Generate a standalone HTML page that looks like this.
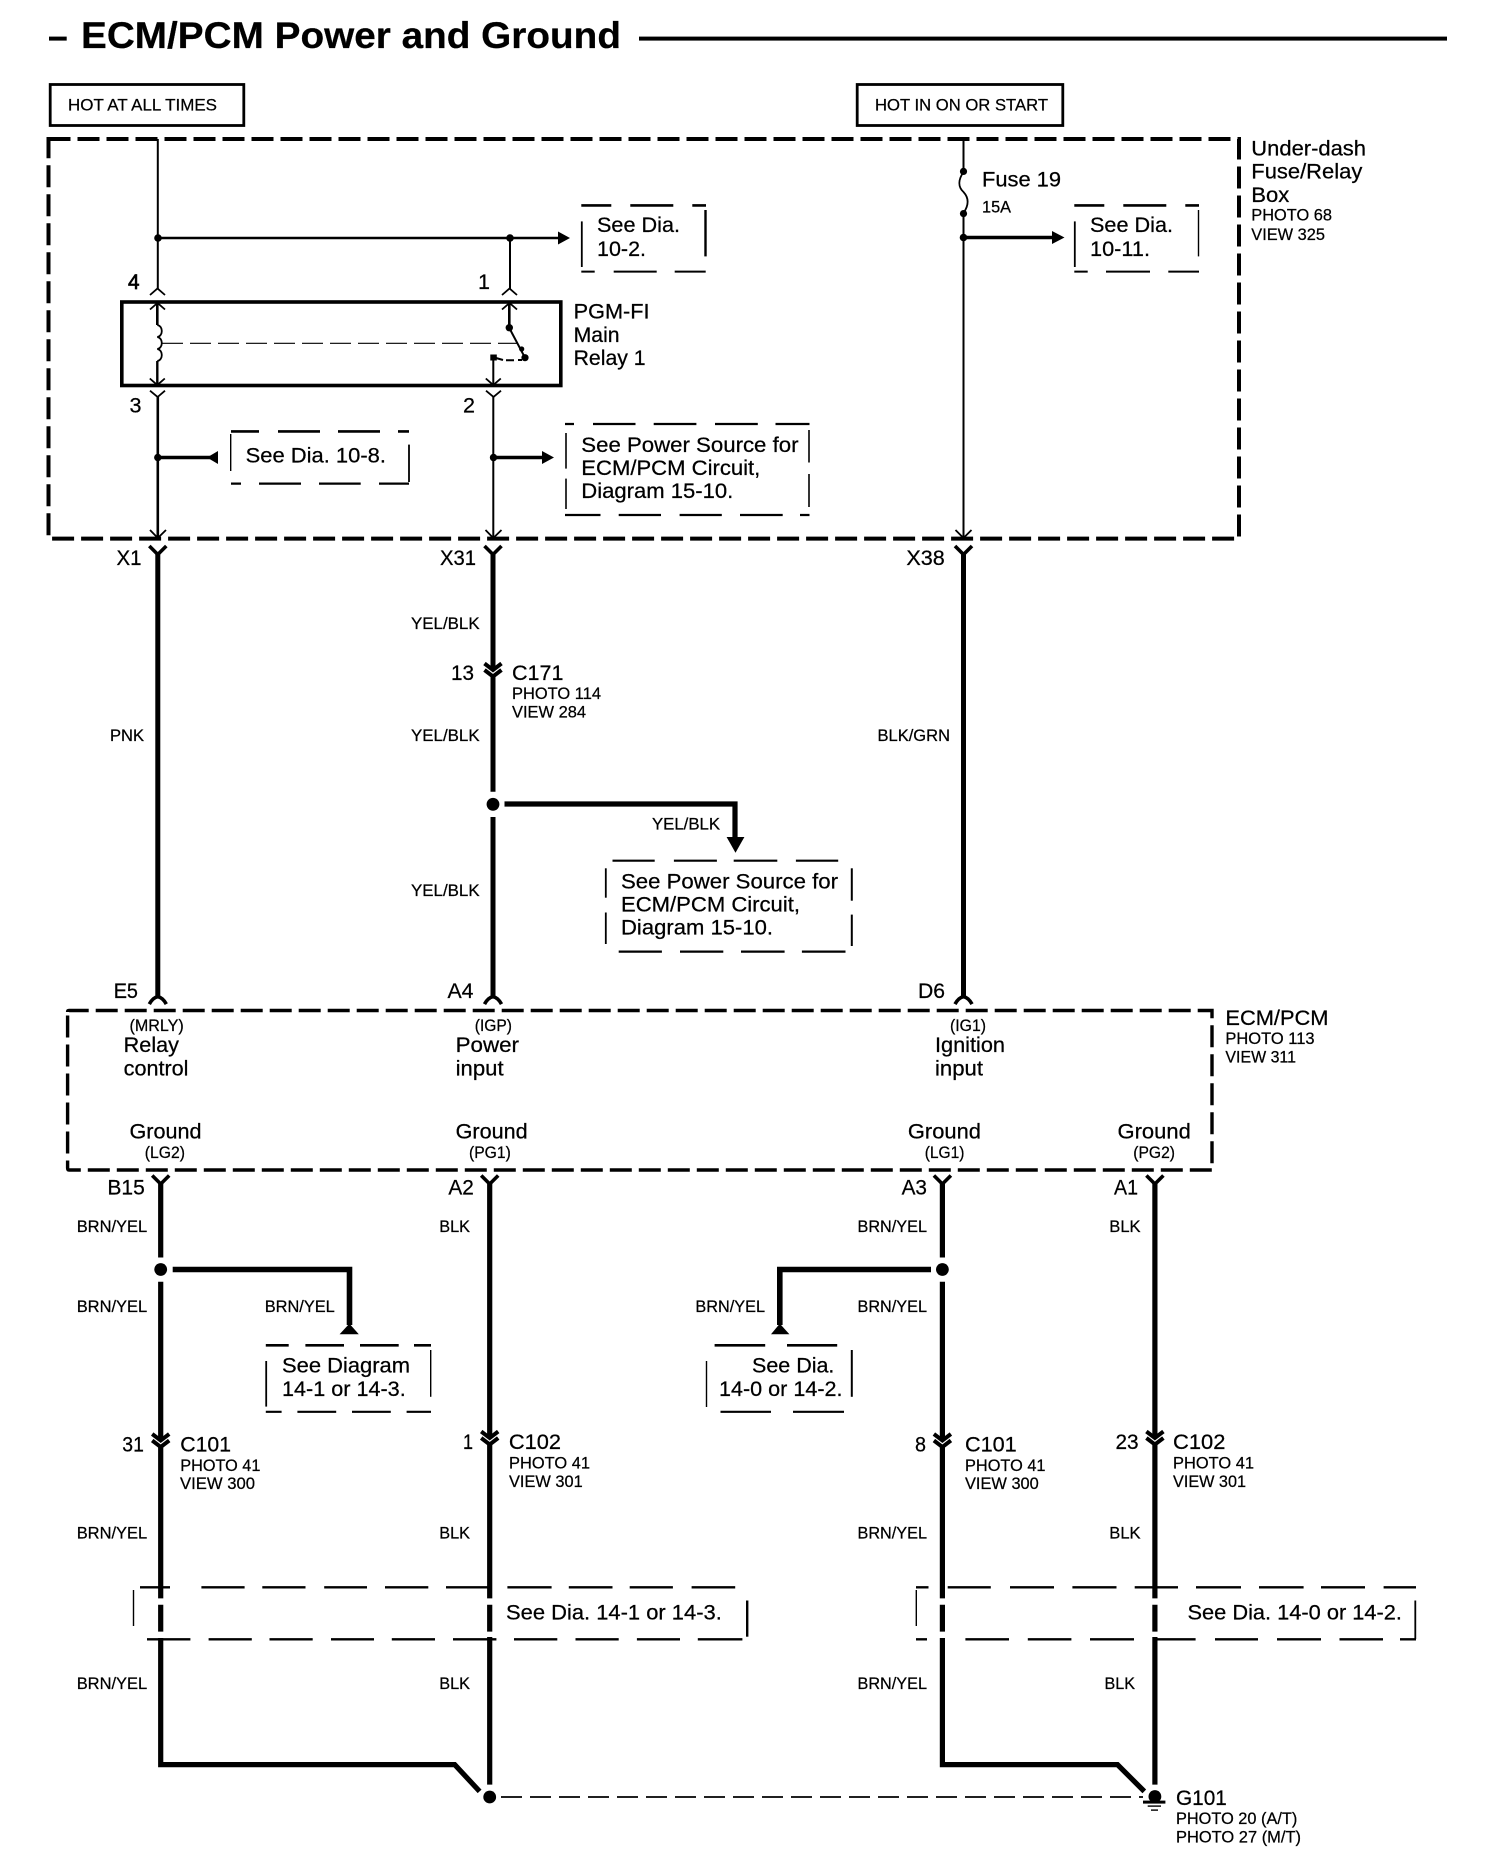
<!DOCTYPE html>
<html><head><meta charset="utf-8"><style>
html,body{margin:0;padding:0;background:#fff}
svg{display:block}
text{font-family:"Liberation Sans",sans-serif;fill:#000;stroke:#000;stroke-width:.25px}
.t{font-size:21.5px}.s{font-size:17px}
.n{stroke:#000;fill:none}
</style></head><body>
<svg width="1504" height="1868" viewBox="0 0 1504 1868" xmlns="http://www.w3.org/2000/svg">
<defs>
<path id="y" d="M-8.5,0L0,8.5L8.5,0" fill="none" stroke="#000" stroke-width="3.6"/>
<path id="ya" d="M-8.5,7.5Q-5,1 0,0Q5,1 8.5,7.5" fill="none" stroke="#000" stroke-width="3.6"/>
<g id="cc" fill="none" stroke="#000" stroke-width="4"><path d="M-8.5,0L0,6.5L8.5,0"/><path d="M-8.5,6.5L0,13L8.5,6.5"/></g>
<path id="ip" d="M-7.5,6.5L0,0L7.5,6.5" fill="none" stroke="#000" stroke-width="1.8"/>
<path id="iv" d="M-7.5,-6.5L0,0L7.5,-6.5" fill="none" stroke="#000" stroke-width="1.8"/>
</defs>

<!-- title -->
<text x="81" y="48" font-size="37" font-weight="700" textLength="540" lengthAdjust="spacingAndGlyphs">ECM/PCM Power and Ground</text>
<rect x="49" y="36.6" width="17.7" height="4"/>
<rect x="639" y="36.6" width="808" height="4"/>

<!-- hot boxes -->
<rect x="50.2" y="84.5" width="193.6" height="41" class="n" stroke-width="2.8"/>
<text class="s" x="68" y="110.7" textLength="149" lengthAdjust="spacingAndGlyphs">HOT AT ALL TIMES</text>
<rect x="857.2" y="84.5" width="205.6" height="41" class="n" stroke-width="2.8"/>
<text class="s" x="875" y="110.7" textLength="173" lengthAdjust="spacingAndGlyphs">HOT IN ON OR START</text>

<!-- Under-dash box -->
<path d="M48.5,139H1239V538.6H48.5Z" class="n" stroke-width="4" stroke-dasharray="22 7"/>
<text class="t" x="1251.3" y="155.4" textLength="114.7" lengthAdjust="spacingAndGlyphs">Under-dash</text>
<text class="t" x="1251.3" y="178.6" textLength="111" lengthAdjust="spacingAndGlyphs">Fuse/Relay</text>
<text class="t" x="1251.3" y="201.8" textLength="38" lengthAdjust="spacingAndGlyphs">Box</text>
<text class="s" x="1251.3" y="220.7" textLength="80.7" lengthAdjust="spacingAndGlyphs">PHOTO 68</text>
<text class="s" x="1251.3" y="240" textLength="73.7" lengthAdjust="spacingAndGlyphs">VIEW 325</text>

<!-- top wires -->
<line x1="157.8" y1="139" x2="157.8" y2="289" class="n" stroke-width="2"/>
<line x1="158" y1="238" x2="561" y2="238" class="n" stroke-width="2.4"/>
<line x1="510" y1="238" x2="510" y2="289" class="n" stroke-width="2"/>
<circle cx="158" cy="238" r="3.8"/><circle cx="510" cy="238" r="3.8"/>
<path d="M558,231.5L570,238L558,244.5Z"/>
<use href="#ip" x="157.5" y="288.5"/><use href="#ip" x="509.5" y="288.5"/>

<text class="t" x="128" y="289" style="stroke-width:.7px" textLength="11.5" lengthAdjust="spacingAndGlyphs">4</text>
<text class="t" x="478" y="289" textLength="12" lengthAdjust="spacingAndGlyphs">1</text>
<text class="t" x="129.5" y="412.5" textLength="12" lengthAdjust="spacingAndGlyphs">3</text>
<text class="t" x="463" y="412.5" textLength="12" lengthAdjust="spacingAndGlyphs">2</text>

<!-- see 10-2 -->
<line x1="581.3" y1="205.4" x2="706" y2="205.4" class="n" stroke-width="2.6" stroke-dasharray="30 19 43 19 14"/>
<line x1="581.3" y1="271.6" x2="706" y2="271.6" class="n" stroke-width="2" stroke-dasharray="13.4 19 43 18 31"/>
<line x1="581.8" y1="221.4" x2="581.8" y2="267" class="n" stroke-width="1.8"/>
<line x1="705.5" y1="210" x2="705.5" y2="256.4" class="n" stroke-width="2.4"/>
<text class="t" x="597" y="232" textLength="83" lengthAdjust="spacingAndGlyphs">See Dia.</text>
<text class="t" x="597" y="256" textLength="49" lengthAdjust="spacingAndGlyphs">10-2.</text>

<!-- relay -->
<rect x="121.8" y="302" width="439" height="83.5" class="n" stroke-width="3.6"/>
<use href="#ip" x="157.5" y="303"/><use href="#ip" x="509.5" y="303"/>
<line x1="157.3" y1="303" x2="157.3" y2="325" class="n" stroke-width="2.6"/>
<path d="M157.3,325c6,1 6,11 0,12c6,1 6,11 0,12c6,1 6,11 0,12" class="n" stroke-width="1.8"/>
<line x1="157.3" y1="361" x2="157.3" y2="385" class="n" stroke-width="2.4"/>
<use href="#iv" x="157.3" y="385"/>
<line x1="162" y1="343.3" x2="518" y2="343.3" class="n" stroke-width="1.1" stroke-dasharray="21 7"/>
<line x1="509.3" y1="303" x2="509.3" y2="328" class="n" stroke-width="2.6"/>
<circle cx="509.3" cy="327.7" r="3.7"/>
<line x1="509.3" y1="328" x2="525" y2="357.7" class="n" stroke-width="2"/>
<circle cx="521.7" cy="349" r="2.6"/><circle cx="525" cy="357.7" r="3.6"/>
<rect x="490.3" y="354.5" width="6.5" height="6"/>
<path d="M496,358L503,360" class="n" stroke-width="2"/>
<path d="M506,360.2H514M518,360H522" class="n" stroke-width="2"/>
<line x1="493.3" y1="358" x2="493.3" y2="385" class="n" stroke-width="2"/>
<use href="#iv" x="493.3" y="385"/>
<path d="M150,390.7L157.6,397L165,390.7" class="n" stroke-width="1.8"/>
<path d="M486,390.7L493.5,397L501,390.7" class="n" stroke-width="1.8"/>
<text class="t" x="573.6" y="318.6" textLength="76" lengthAdjust="spacingAndGlyphs">PGM-FI</text>
<text class="t" x="573.6" y="342" textLength="46" lengthAdjust="spacingAndGlyphs">Main</text>
<text class="t" x="573.6" y="365" textLength="72" lengthAdjust="spacingAndGlyphs">Relay 1</text>

<!-- below relay -->
<line x1="157.8" y1="396" x2="157.8" y2="538" class="n" stroke-width="2.6"/>
<line x1="493.3" y1="396" x2="493.3" y2="538" class="n" stroke-width="2"/>
<path d="M150,530L157.8,538L166,530" class="n" stroke-width="1.8"/>
<path d="M485.5,530L493.3,538L501.5,530" class="n" stroke-width="1.8"/>
<circle cx="157.8" cy="457.5" r="3.7"/><circle cx="493.5" cy="457.5" r="3.7"/>
<line x1="158" y1="457.5" x2="210" y2="457.5" class="n" stroke-width="3.4"/>
<path d="M207,457.5L218,451V464Z"/>
<line x1="493.5" y1="457.5" x2="545" y2="457.5" class="n" stroke-width="3.4"/>
<path d="M542,451L554,457.5L542,464Z"/>

<!-- see 10-8 -->
<line x1="231" y1="431.4" x2="409" y2="431.4" class="n" stroke-width="2.6" stroke-dasharray="28 19 42 18 42 18 11"/>
<line x1="231" y1="483.6" x2="409" y2="483.6" class="n" stroke-width="2.2" stroke-dasharray="10 18 42 18 41.7 18.3 30"/>
<line x1="230.7" y1="434" x2="230.7" y2="471" class="n" stroke-width="1.4"/>
<line x1="409" y1="444.6" x2="409" y2="482" class="n" stroke-width="1.8"/>
<text class="t" x="245.6" y="462.5" textLength="140.4" lengthAdjust="spacingAndGlyphs">See Dia. 10-8.</text>

<!-- see power 1 -->
<line x1="565" y1="424" x2="809.5" y2="424" class="n" stroke-width="2.2" stroke-dasharray="9 19 42.5 18.2 42.7 18.6 42.8 17.7 35"/>
<line x1="565" y1="515" x2="809.5" y2="515" class="n" stroke-width="2.2" stroke-dasharray="35.5 18.2 42.3 18.6 42.2 18.2 42.7 17.3 9.5"/>
<line x1="566" y1="433" x2="566" y2="468.6" class="n" stroke-width="1.6"/>
<line x1="566" y1="478.6" x2="566" y2="509" class="n" stroke-width="1.6"/>
<line x1="809" y1="430" x2="809" y2="462.5" class="n" stroke-width="1.6"/>
<line x1="809" y1="474" x2="809" y2="507" class="n" stroke-width="1.6"/>
<text class="t" x="581.3" y="451.8" textLength="217.2" lengthAdjust="spacingAndGlyphs">See Power Source for</text>
<text class="t" x="581.3" y="475" textLength="179" lengthAdjust="spacingAndGlyphs">ECM/PCM Circuit,</text>
<text class="t" x="581.3" y="498" textLength="152" lengthAdjust="spacingAndGlyphs">Diagram 15-10.</text>

<!-- fuse -->
<line x1="963.5" y1="139" x2="963.5" y2="171" class="n" stroke-width="2"/>
<circle cx="963.5" cy="171.4" r="3.6"/>
<path d="M963.5,172C958,180 958,187 963.5,192C969,198 969,205 963.5,213" class="n" stroke-width="1.8"/>
<circle cx="963.5" cy="213.6" r="3.6"/>
<line x1="963.5" y1="214" x2="963.5" y2="538" class="n" stroke-width="2"/>
<circle cx="963.5" cy="237.5" r="3.8"/>
<line x1="963.5" y1="237.5" x2="1054" y2="237.5" class="n" stroke-width="3.4"/>
<path d="M1052,231L1064.5,237.5L1052,244Z"/>
<path d="M955.5,530L963.5,538L971.5,530" class="n" stroke-width="1.8"/>
<text class="t" x="982" y="186.4" textLength="79" lengthAdjust="spacingAndGlyphs">Fuse 19</text>
<text class="s" x="982" y="212.5" textLength="29" lengthAdjust="spacingAndGlyphs">15A</text>

<!-- see 10-11 -->
<line x1="1074.3" y1="205.4" x2="1199" y2="205.4" class="n" stroke-width="2.6" stroke-dasharray="30 19 43 19 14"/>
<line x1="1074.3" y1="271.6" x2="1199" y2="271.6" class="n" stroke-width="2" stroke-dasharray="13.4 18.3 44 18.3 31"/>
<line x1="1074.8" y1="221.4" x2="1074.8" y2="267" class="n" stroke-width="1.8"/>
<line x1="1198.5" y1="210" x2="1198.5" y2="256.4" class="n" stroke-width="1.4"/>
<text class="t" x="1090" y="232" textLength="83" lengthAdjust="spacingAndGlyphs">See Dia.</text>
<text class="t" x="1090" y="256" textLength="60" lengthAdjust="spacingAndGlyphs">10-11.</text>

<!-- mid thick wires -->
<use href="#y" x="157.8" y="546"/><use href="#y" x="493" y="546"/><use href="#y" x="963.5" y="546"/>
<line x1="157.8" y1="553" x2="157.8" y2="998" class="n" stroke-width="5"/>
<line x1="963.5" y1="553" x2="963.5" y2="998" class="n" stroke-width="5"/>
<line x1="493" y1="553" x2="493" y2="670" class="n" stroke-width="5"/>
<line x1="493" y1="676" x2="493" y2="791.7" class="n" stroke-width="5"/>
<line x1="493" y1="817" x2="493" y2="998" class="n" stroke-width="5"/>
<use href="#cc" x="493" y="663.5"/>
<circle cx="493" cy="804.3" r="6.4"/>
<path d="M504.5,804H735V838" class="n" stroke-width="5.2"/>
<path d="M726.6,837H744.4L735.5,852.7Z"/>
<use href="#ya" x="157.8" y="996.6"/><use href="#ya" x="493" y="996.6"/><use href="#ya" x="963.5" y="996.6"/>

<text class="t" x="116.5" y="565" textLength="25" lengthAdjust="spacingAndGlyphs">X1</text>
<text class="t" x="440" y="565" textLength="36" lengthAdjust="spacingAndGlyphs">X31</text>
<text class="t" x="906.4" y="565" textLength="38.4" lengthAdjust="spacingAndGlyphs">X38</text>
<text class="s" x="411" y="629" textLength="68.6" lengthAdjust="spacingAndGlyphs">YEL/BLK</text>
<text class="s" x="110" y="741" textLength="34" lengthAdjust="spacingAndGlyphs">PNK</text>
<text class="s" x="411" y="741" textLength="68.6" lengthAdjust="spacingAndGlyphs">YEL/BLK</text>
<text class="s" x="411" y="896" textLength="68.6" lengthAdjust="spacingAndGlyphs">YEL/BLK</text>
<text class="s" x="652" y="829.6" textLength="68" lengthAdjust="spacingAndGlyphs">YEL/BLK</text>
<text class="s" x="877.5" y="741" textLength="72.5" lengthAdjust="spacingAndGlyphs">BLK/GRN</text>
<text class="t" x="451" y="680" textLength="23" lengthAdjust="spacingAndGlyphs">13</text>
<text class="t" x="512" y="680" textLength="51.5" lengthAdjust="spacingAndGlyphs">C171</text>
<text class="s" x="512" y="699" textLength="89" lengthAdjust="spacingAndGlyphs">PHOTO 114</text>
<text class="s" x="512" y="717.6" textLength="74" lengthAdjust="spacingAndGlyphs">VIEW 284</text>

<!-- see power 2 -->
<line x1="612.5" y1="860.7" x2="838.3" y2="860.7" class="n" stroke-width="2.2" stroke-dasharray="42.2 19.2 43 16.8 43.6 18.6 42.3"/>
<line x1="618.7" y1="951.6" x2="845.5" y2="951.6" class="n" stroke-width="2.2" stroke-dasharray="43.2 18.1 43.3 17.7 43.6 17.3 43.6"/>
<line x1="605.8" y1="868.3" x2="605.8" y2="897.7" class="n" stroke-width="1.8"/>
<line x1="605.8" y1="912.5" x2="605.8" y2="944" class="n" stroke-width="1.8"/>
<line x1="851.8" y1="868.3" x2="851.8" y2="900.7" class="n" stroke-width="2"/>
<line x1="851.8" y1="914.6" x2="851.8" y2="946" class="n" stroke-width="2"/>
<text class="t" x="621" y="888.5" textLength="217" lengthAdjust="spacingAndGlyphs">See Power Source for</text>
<text class="t" x="621" y="911.6" textLength="179" lengthAdjust="spacingAndGlyphs">ECM/PCM Circuit,</text>
<text class="t" x="621" y="934.4" textLength="152" lengthAdjust="spacingAndGlyphs">Diagram 15-10.</text>

<!-- ECM box -->
<path d="M67.6,1012Q67.6,1010.5 69,1010.5H1212V1170H69Q67.6,1170 67.6,1168Z" class="n" stroke-width="3.4" stroke-dasharray="22 7"/>
<text class="t" x="113.7" y="998" textLength="24.3" lengthAdjust="spacingAndGlyphs">E5</text>
<text class="t" x="447.5" y="998" textLength="26" lengthAdjust="spacingAndGlyphs">A4</text>
<text class="t" x="918" y="998" textLength="27" lengthAdjust="spacingAndGlyphs">D6</text>
<text class="s" x="129.5" y="1031" textLength="54.2" lengthAdjust="spacingAndGlyphs">(MRLY)</text>
<text class="t" x="123.7" y="1052" textLength="55.3" lengthAdjust="spacingAndGlyphs">Relay</text>
<text class="t" x="123.7" y="1075.4" textLength="64.8" lengthAdjust="spacingAndGlyphs">control</text>
<text class="s" x="474.8" y="1031" textLength="37.2" lengthAdjust="spacingAndGlyphs">(IGP)</text>
<text class="t" x="455.6" y="1052" textLength="63.4" lengthAdjust="spacingAndGlyphs">Power</text>
<text class="t" x="455.6" y="1075.4" textLength="48" lengthAdjust="spacingAndGlyphs">input</text>
<text class="s" x="950" y="1031" textLength="36" lengthAdjust="spacingAndGlyphs">(IG1)</text>
<text class="t" x="935" y="1052" textLength="70" lengthAdjust="spacingAndGlyphs">Ignition</text>
<text class="t" x="935" y="1075.4" textLength="48" lengthAdjust="spacingAndGlyphs">input</text>
<text class="t" x="129.5" y="1138.5" textLength="72" lengthAdjust="spacingAndGlyphs">Ground</text>
<text class="s" x="144.8" y="1157.8" textLength="40.2" lengthAdjust="spacingAndGlyphs">(LG2)</text>
<text class="t" x="455.6" y="1138.5" textLength="72" lengthAdjust="spacingAndGlyphs">Ground</text>
<text class="s" x="469" y="1157.8" textLength="41.8" lengthAdjust="spacingAndGlyphs">(PG1)</text>
<text class="t" x="907.9" y="1138.5" textLength="73.1" lengthAdjust="spacingAndGlyphs">Ground</text>
<text class="s" x="924.7" y="1157.8" textLength="39.8" lengthAdjust="spacingAndGlyphs">(LG1)</text>
<text class="t" x="1117.5" y="1138.5" textLength="73.3" lengthAdjust="spacingAndGlyphs">Ground</text>
<text class="s" x="1133.3" y="1157.8" textLength="41.7" lengthAdjust="spacingAndGlyphs">(PG2)</text>
<text class="t" x="1225.4" y="1025" textLength="103.1" lengthAdjust="spacingAndGlyphs">ECM/PCM</text>
<text class="s" x="1225.4" y="1044" textLength="89.2" lengthAdjust="spacingAndGlyphs">PHOTO 113</text>
<text class="s" x="1225.4" y="1062.7" textLength="70.6" lengthAdjust="spacingAndGlyphs">VIEW 311</text>

<!-- lower labels -->
<text class="t" x="107.4" y="1194.5" textLength="37.4" lengthAdjust="spacingAndGlyphs">B15</text>
<text class="t" x="448.4" y="1194.5" textLength="25.5" lengthAdjust="spacingAndGlyphs">A2</text>
<text class="t" x="901.6" y="1194.5" textLength="25.4" lengthAdjust="spacingAndGlyphs">A3</text>
<text class="t" x="1114" y="1194.5" textLength="24" lengthAdjust="spacingAndGlyphs">A1</text>
<use href="#y" x="160.7" y="1175.5"/><use href="#y" x="489.7" y="1175.5"/><use href="#y" x="942.4" y="1175.5"/><use href="#y" x="1154.9" y="1175.5"/>

<!-- wire 1 -->
<path d="M160.7,1182V1257.5M160.7,1281.8V1440M160.7,1447V1598.4M160.7,1604.8V1631.6M160.7,1638V1764.6H454.7L479.6,1791.4" class="n" stroke-width="5.2"/>
<circle cx="160.7" cy="1269.5" r="6.4"/>
<path d="M172.7,1269.5H349.5V1325" class="n" stroke-width="5.6"/>
<path d="M339.6,1334.2L349.4,1323.6L358.8,1334.2Z"/>
<use href="#cc" x="160.7" y="1434"/>
<!-- wire 2 -->
<path d="M489.7,1182V1438M489.7,1445V1598.4M489.7,1604.8V1631.6M489.7,1637V1784.6" class="n" stroke-width="5.2"/>
<use href="#cc" x="489.7" y="1431.5"/>
<circle cx="489.7" cy="1797" r="6.4"/>
<line x1="501" y1="1797" x2="1143" y2="1797" class="n" stroke-width="1.8" stroke-dasharray="21 8"/>
<!-- wire 3 -->
<path d="M942.4,1182V1257.5M942.4,1281.8V1440M942.4,1447V1598.4M942.4,1604.8V1631.6M942.4,1638V1764.6H1117.5L1144.3,1791.4" class="n" stroke-width="5.2"/>
<circle cx="942.4" cy="1269.5" r="6.4"/>
<path d="M931,1269.5H779.8V1325" class="n" stroke-width="5.6"/>
<path d="M771,1334.2L779.8,1323.6L789.4,1334.2Z"/>
<use href="#cc" x="942.4" y="1434"/>
<!-- wire 4 -->
<path d="M1154.9,1182V1438M1154.9,1445V1598.4M1154.9,1604.8V1631.6M1154.9,1637V1784.6" class="n" stroke-width="5.2"/>
<use href="#cc" x="1154.9" y="1431.5"/>
<circle cx="1154.9" cy="1796.5" r="6.4"/>
<rect x="1143" y="1800.6" width="22.4" height="3"/>
<rect x="1147.7" y="1805.4" width="13.3" height="1.4"/>
<rect x="1151" y="1809.4" width="7" height="1.4"/>

<text class="s" x="76.7" y="1232" textLength="70.5" lengthAdjust="spacingAndGlyphs">BRN/YEL</text>
<text class="s" x="76.7" y="1312" textLength="70.5" lengthAdjust="spacingAndGlyphs">BRN/YEL</text>
<text class="s" x="76.7" y="1538.7" textLength="70.5" lengthAdjust="spacingAndGlyphs">BRN/YEL</text>
<text class="s" x="76.7" y="1689" textLength="70.5" lengthAdjust="spacingAndGlyphs">BRN/YEL</text>
<text class="s" x="264.7" y="1312" textLength="70.1" lengthAdjust="spacingAndGlyphs">BRN/YEL</text>
<text class="s" x="439.3" y="1232" textLength="30.7" lengthAdjust="spacingAndGlyphs">BLK</text>
<text class="s" x="439.3" y="1538.7" textLength="30.7" lengthAdjust="spacingAndGlyphs">BLK</text>
<text class="s" x="439.3" y="1689" textLength="30.7" lengthAdjust="spacingAndGlyphs">BLK</text>
<text class="s" x="857.5" y="1232" textLength="69.5" lengthAdjust="spacingAndGlyphs">BRN/YEL</text>
<text class="s" x="857.5" y="1312" textLength="69.5" lengthAdjust="spacingAndGlyphs">BRN/YEL</text>
<text class="s" x="857.5" y="1538.7" textLength="69.5" lengthAdjust="spacingAndGlyphs">BRN/YEL</text>
<text class="s" x="857.5" y="1689" textLength="69.5" lengthAdjust="spacingAndGlyphs">BRN/YEL</text>
<text class="s" x="695.4" y="1312" textLength="69.6" lengthAdjust="spacingAndGlyphs">BRN/YEL</text>
<text class="s" x="1109.3" y="1232" textLength="31.3" lengthAdjust="spacingAndGlyphs">BLK</text>
<text class="s" x="1109.3" y="1538.7" textLength="31.3" lengthAdjust="spacingAndGlyphs">BLK</text>
<text class="s" x="1104.5" y="1689" textLength="30.5" lengthAdjust="spacingAndGlyphs">BLK</text>

<!-- see diagram box -->
<line x1="265.8" y1="1345.3" x2="431" y2="1345.3" class="n" stroke-width="2.6" stroke-dasharray="22.9 16.7 38.6 16 38.7 15.3 17"/>
<line x1="265.8" y1="1411.8" x2="431" y2="1411.8" class="n" stroke-width="2.2" stroke-dasharray="15.8 15.8 38.8 15.8 38.8 15.8 24.4"/>
<line x1="266.2" y1="1361" x2="266.2" y2="1406.6" class="n" stroke-width="1.8"/>
<line x1="430.7" y1="1350" x2="430.7" y2="1396.8" class="n" stroke-width="1.4"/>
<text class="t" x="282" y="1372.6" textLength="128" lengthAdjust="spacingAndGlyphs">See Diagram</text>
<text class="t" x="282" y="1396" textLength="123.7" lengthAdjust="spacingAndGlyphs">14-1 or 14-3.</text>

<!-- see dia box -->
<path d="M714.6,1345.3H765.2M787,1345.3H837.2" class="n" stroke-width="2.6"/>
<path d="M720.5,1411.8H771M793,1411.8H844" class="n" stroke-width="2.2"/>
<line x1="706.5" y1="1361" x2="706.5" y2="1407" class="n" stroke-width="1.4"/>
<line x1="851.8" y1="1350" x2="851.8" y2="1396.8" class="n" stroke-width="2"/>
<text class="t" x="752" y="1372.6" textLength="82.4" lengthAdjust="spacingAndGlyphs">See Dia.</text>
<text class="t" x="719" y="1396" textLength="123.5" lengthAdjust="spacingAndGlyphs">14-0 or 14-2.</text>

<!-- connector labels -->
<text class="t" x="122.3" y="1451.4" textLength="21.6" lengthAdjust="spacingAndGlyphs">31</text>
<text class="t" x="180.3" y="1451.4" textLength="50.7" lengthAdjust="spacingAndGlyphs">C101</text>
<text class="s" x="180.3" y="1471" textLength="80.1" lengthAdjust="spacingAndGlyphs">PHOTO 41</text>
<text class="s" x="180" y="1489" textLength="75" lengthAdjust="spacingAndGlyphs">VIEW 300</text>
<text class="t" x="463" y="1448.8" textLength="10" lengthAdjust="spacingAndGlyphs">1</text>
<text class="t" x="508.9" y="1448.8" textLength="52.1" lengthAdjust="spacingAndGlyphs">C102</text>
<text class="s" x="509" y="1468.4" textLength="81" lengthAdjust="spacingAndGlyphs">PHOTO 41</text>
<text class="s" x="509" y="1486.8" textLength="73.7" lengthAdjust="spacingAndGlyphs">VIEW 301</text>
<text class="t" x="915" y="1451.4" textLength="11" lengthAdjust="spacingAndGlyphs">8</text>
<text class="t" x="965" y="1451.4" textLength="51.7" lengthAdjust="spacingAndGlyphs">C101</text>
<text class="s" x="965" y="1471" textLength="80.5" lengthAdjust="spacingAndGlyphs">PHOTO 41</text>
<text class="s" x="965" y="1489" textLength="73.8" lengthAdjust="spacingAndGlyphs">VIEW 300</text>
<text class="t" x="1115.5" y="1448.8" textLength="23.1" lengthAdjust="spacingAndGlyphs">23</text>
<text class="t" x="1173" y="1448.8" textLength="52.4" lengthAdjust="spacingAndGlyphs">C102</text>
<text class="s" x="1173" y="1468.4" textLength="81" lengthAdjust="spacingAndGlyphs">PHOTO 41</text>
<text class="s" x="1173" y="1486.8" textLength="73" lengthAdjust="spacingAndGlyphs">VIEW 301</text>

<!-- bottom dashed left -->
<path d="M140,1587.3H170M201.4,1587.3H244.6M262.3,1587.3H305.5M324.2,1587.3H367M385,1587.3H428.3M446,1587.3H488M507.4,1587.3H551.6M568.8,1587.3H612.5M629.7,1587.3H672.9M691.6,1587.3H735.2" class="n" stroke-width="2.4"/>
<path d="M147,1639.3H190.4M208.6,1639.3H251.8M269.5,1639.3H312.7M331,1639.3H374M391.8,1639.3H435M453,1639.3H496.4M514,1639.3H557.3M575.5,1639.3H618.7M636.9,1639.3H680M697.8,1639.3H742.4" class="n" stroke-width="2.4"/>
<line x1="133.5" y1="1590" x2="133.5" y2="1626" class="n" stroke-width="1.4"/>
<line x1="747.2" y1="1600.5" x2="747.2" y2="1636.7" class="n" stroke-width="2.4"/>
<text class="t" x="506" y="1619.7" textLength="215.8" lengthAdjust="spacingAndGlyphs">See Dia. 14-1 or 14-3.</text>

<!-- bottom dashed right -->
<path d="M916,1587.3H928.5M947.7,1587.3H990.8M1010,1587.3H1054M1072.4,1587.3H1116.5M1134.7,1587.3H1178M1196,1587.3H1241M1259,1587.3H1303.6M1321,1587.3H1365M1383.6,1587.3H1416" class="n" stroke-width="2.4"/>
<path d="M916,1639.3H927M965.4,1639.3H1009M1027.8,1639.3H1071.4M1090,1639.3H1134M1152.5,1639.3H1195.6M1215,1639.3H1258M1277,1639.3H1321M1339.5,1639.3H1383M1400,1639.3H1416" class="n" stroke-width="2.4"/>
<line x1="916.3" y1="1590" x2="916.3" y2="1626" class="n" stroke-width="1.4"/>
<line x1="1415.3" y1="1600.5" x2="1415.3" y2="1639" class="n" stroke-width="1.8"/>
<text class="t" x="1187.5" y="1619.7" textLength="214.5" lengthAdjust="spacingAndGlyphs">See Dia. 14-0 or 14-2.</text>

<!-- G101 -->
<text class="t" x="1176" y="1805" textLength="50.8" lengthAdjust="spacingAndGlyphs">G101</text>
<text class="s" x="1176" y="1824.2" textLength="121.3" lengthAdjust="spacingAndGlyphs">PHOTO 20 (A/T)</text>
<text class="s" x="1176" y="1842.5" textLength="125" lengthAdjust="spacingAndGlyphs">PHOTO 27 (M/T)</text>
</svg>
</body></html>
